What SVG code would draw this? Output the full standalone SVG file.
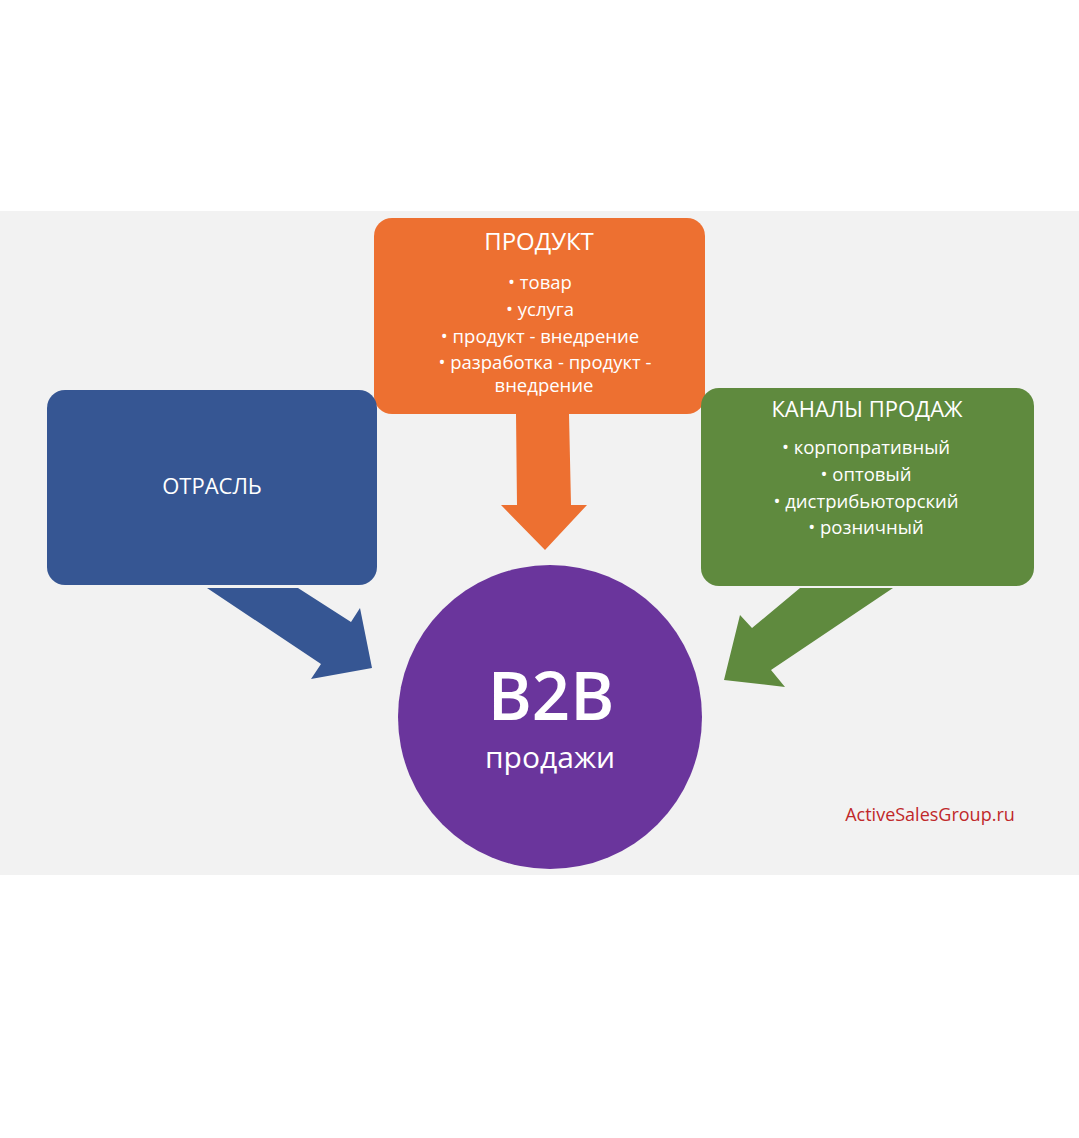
<svg xmlns="http://www.w3.org/2000/svg" width="1079" height="1138" viewBox="0 0 1079 1138">
<style>
text{font-family:"Open Sans","Noto Sans",sans-serif;fill:#fff;text-anchor:middle}
.t{font-size:22px}
.b{font-size:18.5px}
</style>
<rect width="1079" height="1138" fill="#fff"/>
<rect x="0" y="211" width="1079" height="664" fill="#f2f2f2"/>
<g id="connectors">
<polygon points="516,414 569,414 571,505 587,505 545,550 501,505 517,505" fill="#ed7031"/>
<polygon points="207,588 298,588 351,622 360,608 372,668 311,679 321,664" fill="#365693"/>
<polygon points="893,588 800,588 752,628 740,615 724,680 785,687 771,670" fill="#5f8a3e"/>
</g>
<g id="product">
<rect x="374" y="218" width="331" height="196" rx="18" fill="#ed7031"/>
<text x="539" y="250" style="font-size:24px">ПРОДУКТ</text>
<text class="b" x="540" y="289">• товар</text>
<text class="b" x="540" y="316">• услуга</text>
<text class="b" x="540" y="343">• продукт - внедрение</text>
<text class="b" x="545" y="369">• разработка - продукт -</text>
<text class="b" x="544" y="392">внедрение</text>
</g>
<g id="industry">
<rect x="47" y="390" width="330" height="195" rx="18" fill="#365693"/>
<text class="t" x="212" y="494">ОТРАСЛЬ</text>
</g>
<g id="channels">
<rect x="701" y="388" width="333" height="198" rx="18" fill="#5f8a3e"/>
<text x="867" y="417" style="font-size:22px">КАНАЛЫ ПРОДАЖ</text>
<text class="b" x="866" y="454">• корпопративный</text>
<text class="b" x="866" y="481">• оптовый</text>
<text class="b" x="866" y="508">• дистрибьюторский</text>
<text class="b" x="866" y="534">• розничный</text>
</g>
<g id="b2b">
<circle cx="550" cy="717" r="152" fill="#6a359c"/>
<text x="551" y="720" style="font-size:67px;font-weight:600">B2B</text>
<text x="550" y="768" style="font-size:30px">продажи</text>
</g>
<text x="930" y="821" style="font-size:18px;fill:#c0282a">ActiveSalesGroup.ru</text>
</svg>
